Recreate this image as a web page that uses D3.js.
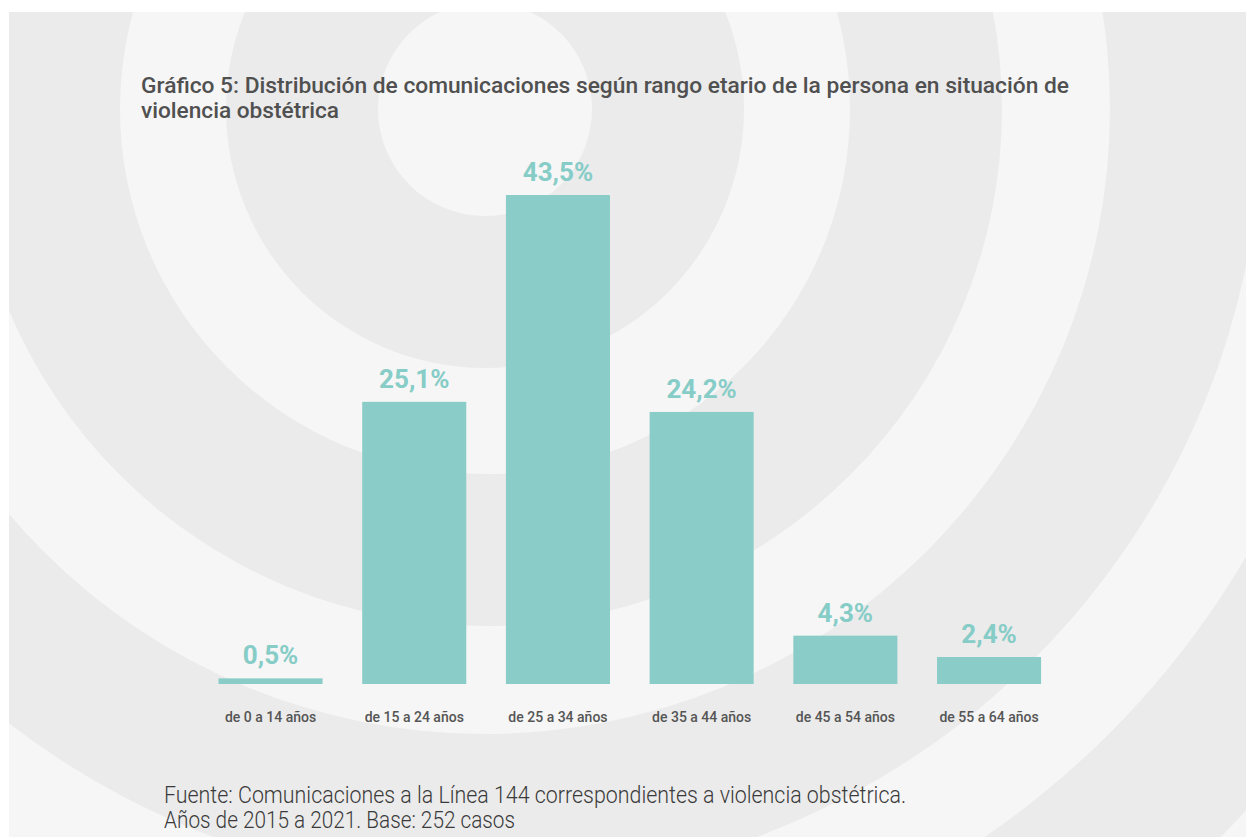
<!DOCTYPE html>
<html>
<head>
<meta charset="utf-8">
<script src="https://cdn.jsdelivr.net/npm/d3@7"></script>
<style>
	body { margin: 0; background: #ffffff; }
	svg { display: block; }
</style>
</head>
<body>
<div id="my_dataviz"></div>
<script>
var width = 1246,
	height = 837;

const CATEGORIES = [
	"de 0 a 14 años",
	"de 15 a 24 años",
	"de 25 a 34 años",
	"de 35 a 44 años",
	"de 45 a 54 años",
	"de 55 a 64 años",
];
const VALUES = [0.5, 25.1, 43.5, 24.2, 4.3, 2.4];

const TITLE_LINES = [
	"Gráfico 5: Distribución de comunicaciones según rango etario de la persona en situación de",
	"violencia obstétrica",
];
const SOURCE_LINES = [
	"Fuente: Comunicaciones a la Línea 144 correspondientes a violencia obstétrica.",
	"Años de 2015 a 2021. Base: 252 casos",
];

// spanish style numbers: 43,5%
var locale = d3.formatLocale({ decimal: ",", thousands: ".", grouping: [3], currency: ["$", ""] });
var fmt = locale.format(".1f");

var svg = d3
	.select("#my_dataviz")
	.append("svg")
	.attr("width", width)
	.attr("height", height);

// background panel with rings
var panel = { x: 9, y: 12 };
svg
	.append("clipPath")
	.attr("id", "panelClip")
	.append("rect")
	.attr("x", panel.x)
	.attr("y", panel.y)
	.attr("width", width - panel.x)
	.attr("height", height - panel.y);

var bg = svg.append("g").attr("clip-path", "url(#panelClip)");
bg.append("rect")
	.attr("x", panel.x)
	.attr("y", panel.y)
	.attr("width", width - panel.x)
	.attr("height", height - panel.y)
	.attr("fill", "#ebebeb");

var rings = [1141, 1035, 883, 777, 625, 517, 365, 259, 107];
bg.selectAll("circle")
	.data(rings)
	.enter()
	.append("circle")
	.attr("cx", 485)
	.attr("cy", 109)
	.attr("r", function (d) {
		return d;
	})
	.attr("fill", function (d, i) {
		return i % 2 === 0 ? "#f6f6f6" : "#ebebeb";
	});

// title
svg.append("g")
	.selectAll("text")
	.data(TITLE_LINES)
	.enter()
	.append("text")
	.attr("x", 141)
	.attr("y", function (d, i) {
		return 93 + i * 25;
	})
	.attr("font-family", "Roboto, sans-serif")
	.attr("font-size", 22)
	.attr("font-weight", 500)
	.attr("fill", "#505050")
	.text(function (d) {
		return d;
	})
	.each(function (d, i) {
		if (i === 0) {
			d3.select(this).attr("textLength", 928).attr("lengthAdjust", "spacingAndGlyphs");
		} else {
			d3.select(this).attr("textLength", 198).attr("lengthAdjust", "spacingAndGlyphs");
		}
	});

var x = d3
	.scaleBand()
	.domain(CATEGORIES)
	.range([198.7, 1060.9])
	.paddingInner(0.276)
	.paddingOuter(0.138);

var y = d3.scaleLinear().domain([0, 43.5]).range([684, 195]);

var data = CATEGORIES.map(function (c, i) {
	return { cat: c, value: VALUES[i] };
});

// bars
svg.append("g")
	.selectAll("rect")
	.data(data)
	.enter()
	.append("rect")
	.attr("x", function (d) {
		return x(d.cat);
	})
	.attr("y", function (d) {
		return y(d.value);
	})
	.attr("width", x.bandwidth())
	.attr("height", function (d) {
		return y(0) - y(d.value);
	})
	.attr("fill", "#89ccc8");

// value labels
svg.append("g")
	.selectAll("text")
	.data(data)
	.enter()
	.append("text")
	.attr("x", function (d) {
		return x(d.cat) + x.bandwidth() / 2;
	})
	.attr("y", function (d) {
		return y(d.value) - 14;
	})
	.attr("text-anchor", "middle")
	.attr("font-family", "Roboto, sans-serif")
	.attr("font-size", 26)
	.attr("font-weight", 700)
	.attr("fill", "#86ccc7")
	.text(function (d) {
		return fmt(d.value) + "%";
	});

// x axis, no line
var xAxis = svg
	.append("g")
	.attr("transform", "translate(0," + y(0) + ")")
	.call(d3.axisBottom(x).tickSize(0).tickPadding(28));
xAxis.select(".domain").remove();
xAxis
	.selectAll("text")
	.attr("font-family", "Roboto, sans-serif")
	.attr("font-size", 14)
	.attr("font-weight", 500)
	.attr("fill", "#555555");

// source
svg.append("g")
	.selectAll("text")
	.data(SOURCE_LINES)
	.enter()
	.append("text")
	.attr("x", 164)
	.attr("y", function (d, i) {
		return 803 + i * 25;
	})
	.attr("font-family", "Roboto, sans-serif")
	.attr("font-size", 23)
	.attr("font-weight", 300)
	.attr("fill", "#3a3a3a")
	.attr("textLength", function (d, i) {
		return i === 0 ? 742 : 351;
	})
	.attr("lengthAdjust", "spacingAndGlyphs")
	.text(function (d) {
		return d;
	});
</script>
</body>
</html>
